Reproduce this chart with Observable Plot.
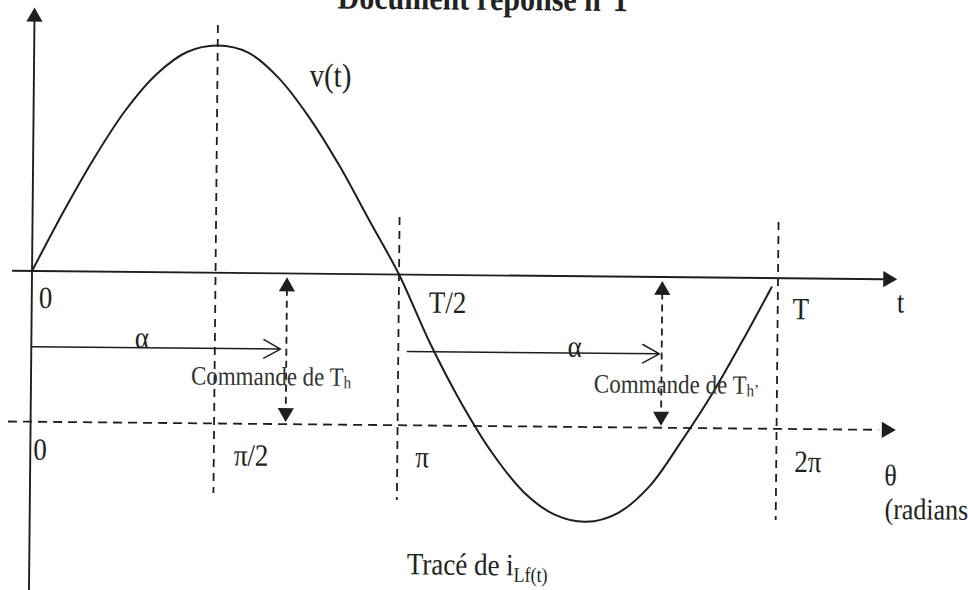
<!DOCTYPE html>
<html><head><meta charset="utf-8">
<script src="https://cdn.jsdelivr.net/npm/d3@7"></script>
<script src="https://cdn.jsdelivr.net/npm/@observablehq/plot@0.6"></script>
<style>
html,body{margin:0;padding:0;background:#fff;overflow:hidden}
#chart svg{display:block;transform:rotate(0.55deg);transform-origin:33px 15px}
</style></head><body><div id="chart"></div>
<script>
const PI = Math.PI;

// ---- data ----
// v(t) sampled at θ = k·π/12 (k values below), read from the drawing
const thetaSteps = [0,1,2,3,4,5,6,7,8,9,10,11,12,13,14,15,16,17,18,19,20,21,22,23,23.8];
const vValues    = [0,0.26,0.50,0.71,0.87,0.97,1.00,0.97,0.86,0.69,0.48,0.24,0,
                    -0.30,-0.56,-0.78,-0.95,-1.05,-1.08,-1.04,-0.92,-0.72,-0.50,-0.25,-0.04];
const tTickLabels     = ["0", "T/2", "T"];
const tTickTheta      = [0, 1, 2];          // × π
const thetaTickLabels = ["0", "π/2", "π", "2π"];
const thetaTickTheta  = [0, 0.5, 1, 2];     // × π
const guideTheta      = [0.5, 1, 2];        // × π, vertical dashed guides
const alphaLabel      = "α";
const alphaFiring     = 0.695;              // × π, firing angle α
const seriesName      = "v(t)";
const titleText       = "Document réponse n°1";
const captionMain     = "Tracé de i";
const captionSub      = "Lf(t)";
const commandText     = ["Commande de T", "Commande de T"];
const commandSub      = ["h", "h’"];

// ---- layout (not data) ----
const thetaAxisV = -0.663;
const guideTop = [1.088, 0.251, 0.245];
const guideBottom = [-0.971, -0.994, -1.066];
const tLabelDx = [7, 30, 15], tLabelDy = [27, 28, 31];
const thLabelDx = [3, 20, 18, 18], thLabelDy = [28, 32, 32, 33];

const ink = "#1e1e1e", txt = "#222";
const serif = "Liberation Serif, Times New Roman, serif";

const curve = thetaSteps.map((k, i) => ({theta: k * PI / 12, v: vValues[i]}));
const guides = guideTheta.map((g, i) => ({theta: g * PI, top: guideTop[i], bottom: guideBottom[i]}));
const commands = [alphaFiring * PI, (1 + alphaFiring) * PI];
const heads = [
  {theta: 0, v: 1.118, rot: 0},
  {theta: 2.290 * PI, v: 0, rot: 90},
  {theta: 2.290 * PI, v: thetaAxisV, rot: 90},
  ...commands.flatMap(c => [{theta: c, v: -0.058, rot: 0}, {theta: c, v: -0.613, rot: 180}])
];
const alphaArrows = [
  {x1: 0.003 * PI, x2: (alphaFiring - 0.016) * PI, y1: -0.333, y2: -0.333},
  {x1: 1.024 * PI, x2: (1 + alphaFiring - 0.006) * PI, y1: -0.338, y2: -0.338}
];

const marks = [
  Plot.ruleX([0], {y1: -1.45, y2: 1.10, stroke: ink, strokeWidth: 1.9}),
  Plot.ruleY([0], {x1: -0.053 * PI, x2: 2.28 * PI, stroke: ink, strokeWidth: 1.9}),
  Plot.ruleY([thetaAxisV], {x1: -0.06 * PI, x2: 2.27 * PI, stroke: ink, strokeWidth: 1.8, strokeDasharray: "9,6"}),
  Plot.ruleX(guides, {x: "theta", y1: "top", y2: "bottom", stroke: ink, strokeWidth: 1.8, strokeDasharray: "8,6"}),
  Plot.ruleX(commands, {x: d => d, y1: -0.07, y2: -0.60, stroke: ink, strokeWidth: 1.8, strokeDasharray: "7,5"}),
  Plot.dot(heads, {x: "theta", y: "v", symbol: "triangle", r: 6, fill: ink, stroke: null, rotate: "rot"}),
  Plot.arrow(alphaArrows, {x1: "x1", y1: "y1", x2: "x2", y2: "y2", stroke: ink, strokeWidth: 1.5, headLength: 19, headAngle: 58}),
  Plot.line(curve, {x: "theta", y: "v", curve: "catmull-rom", stroke: ink, strokeWidth: 2}),
  Plot.text([titleText], {x: 1.214 * PI, y: 1.168, text: d => d, lineAnchor: "bottom", fontSize: 30, fontWeight: "bold", fontFamily: serif, fill: txt}),
  Plot.text([seriesName], {x: 0.808 * PI, y: 0.871, text: d => d, fontSize: 29, fontFamily: serif, fill: txt}),
  ...tTickLabels.map((s, i) => Plot.text([s], {x: tTickTheta[i] * PI, y: 0, text: d => d, textAnchor: "start", dx: tLabelDx[i], dy: tLabelDy[i], fontSize: 27, fontFamily: serif, fill: txt})),
  ...thetaTickLabels.map((s, i) => Plot.text([s], {x: thetaTickTheta[i] * PI, y: thetaAxisV, text: d => d, textAnchor: "start", dx: thLabelDx[i], dy: thLabelDy[i], fontSize: 27, fontFamily: serif, fill: txt})),
  Plot.text(["t"], {x: 2.324 * PI, y: -0.102, text: d => d, fontSize: 27, fontFamily: serif, fill: txt}),
  Plot.text(["θ"], {x: 2.302 * PI, y: -0.864, text: d => d, fontSize: 26, fontFamily: serif, fill: txt}),
  Plot.text(["(radians)"], {x: 2.287 * PI, y: -1.013, text: d => d, textAnchor: "start", fontSize: 26, fontFamily: serif, fill: txt}),
  Plot.text([0.301 * PI, 1.465 * PI], {x: d => d, y: (d, i) => [-0.290, -0.311][i], text: () => alphaLabel, fontSize: 27, fontFamily: serif, fill: txt}),
  Plot.text([0, 1], {x: i => [0.852, 1.920][i] * PI, y: i => [-0.455, -0.473][i], text: i => commandText[i], textAnchor: "end", fontSize: 23, fontFamily: serif, fill: "#333"}),
  Plot.text([0, 1], {x: i => [0.852, 1.920][i] * PI, y: i => [-0.478, -0.496][i], text: i => commandSub[i], textAnchor: "start", fontSize: 15, fontFamily: serif, fill: "#333"}),
  Plot.text([captionMain], {x: 1.310 * PI, y: -1.275, text: d => d, textAnchor: "end", fontSize: 27, fontFamily: serif, fill: txt}),
  Plot.text([captionSub], {x: 1.310 * PI, y: -1.317, text: d => d, textAnchor: "start", fontSize: 18, fontFamily: serif, fill: txt})
];

const chart = Plot.plot({
  width: 968,
  height: 590,
  margin: 0,
  style: {background: "white", overflow: "visible"},
  x: {type: "linear", domain: [0, PI, 2 * PI], range: [34, 401, 780], axis: null},
  y: {type: "linear", domain: [-1, 1], range: [497.8, 43.2], axis: null},
  marks
});
// the scanned reference lettering is slightly taller than wide: stretch text vertically
d3.select(chart).selectAll("text").each(function () {
  const t = this.getAttribute("transform");
  this.setAttribute("transform", (t ? t + " " : "") + "scale(1,1.15)");
});
document.getElementById("chart").appendChild(chart);
</script>
</body></html>
